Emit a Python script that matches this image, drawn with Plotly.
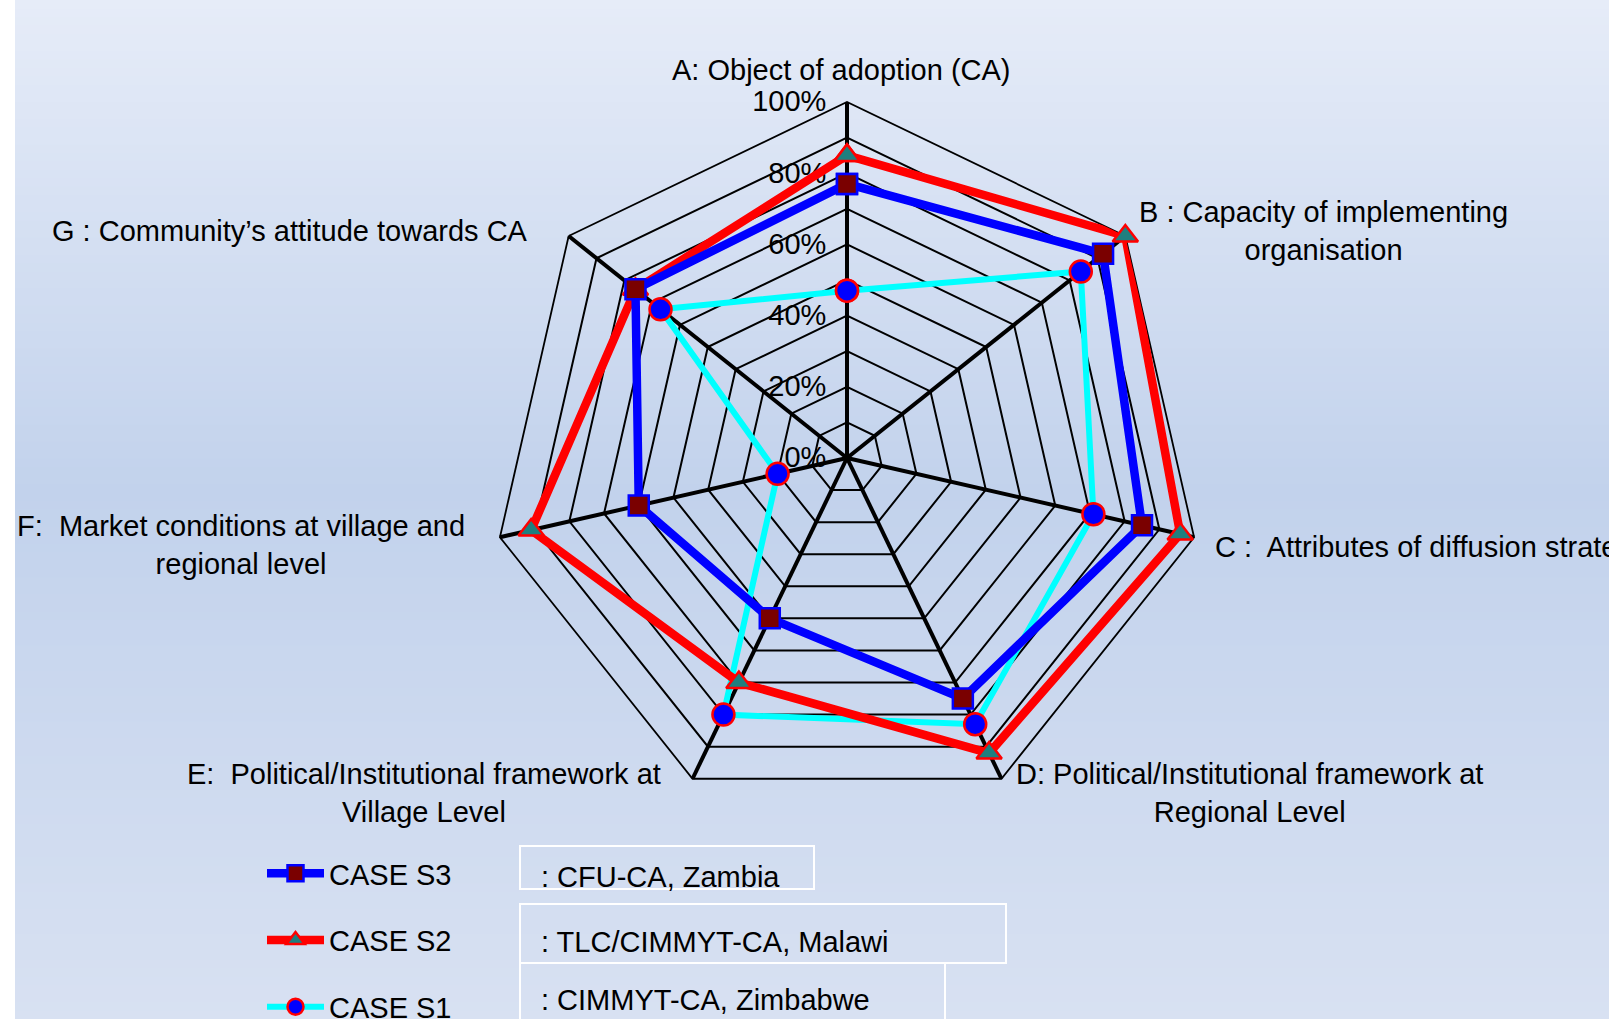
import plotly.graph_objects as go

W, H = 1609, 1019

categories = ["A", "B", "C", "D", "E", "F", "G"]
s3_values = [0.77, 0.92, 0.85, 0.75, 0.50, 0.60, 0.76]
s2_values = [0.85, 1.00, 0.96, 0.92, 0.70, 0.91, 0.76]
s1_values = [0.47, 0.84, 0.71, 0.83, 0.80, 0.20, 0.67]
radial_ticks = [0, 0.1, 0.2, 0.3, 0.4, 0.5, 0.6, 0.7, 0.8, 0.9, 1.0]
radial_ticktext = ["0%", "", "20%", "", "40%", "", "60%", "", "80%", "", "100%"]

axis_labels = [
    ("A: Object of adoption (CA)", 841, 70),
    ("B : Capacity of implementing<br>organisation", 1323, 231),
    ("C :  Attributes of diffusion strategy", None, 547),
    ("D: Political/Institutional framework at<br>Regional Level", 1249, 793),
    ("E:  Political/Institutional framework at<br>Village Level", 424, 793),
    ("F:  Market conditions at village and<br>regional level", 241, 545),
    ("G : Community\u2019s attitude towards CA", 290, 231),
]
legend_names = ["CASE S3", "CASE S2", "CASE S1"]
legend_desc = [": CFU-CA, Zambia", ": TLC/CIMMYT-CA, Malawi", ": CIMMYT-CA, Zimbabwe"]

FONT = "Liberation Sans, Arial, sans-serif"
FS = 29

def closed(v):
    return v + v[:1]

theta = closed(categories)

fig = go.Figure()
fig.add_trace(go.Scatterpolar(
    r=closed(s1_values), theta=theta, mode="lines+markers", name=legend_names[2],
    line=dict(color="#00FFFF", width=6),
    marker=dict(symbol="circle", size=22, color="#0000FF", line=dict(color="#FF0000", width=2.5)),
    legendrank=3, legendgroup="s1"))
fig.add_trace(go.Scatterpolar(
    r=closed(s2_values), theta=theta, mode="lines+markers", name=legend_names[1],
    line=dict(color="#FF0000", width=8.5),
    marker=dict(symbol="triangle-up", size=22, color="#1F7F7F", line=dict(color="#FF0000", width=2.5)),
    legendrank=2, legendgroup="s2"))
fig.add_trace(go.Scatterpolar(
    r=closed(s3_values), theta=theta, mode="lines+markers", name=legend_names[0],
    line=dict(color="#0000FF", width=8.5),
    marker=dict(symbol="square", size=20, color="#7A0000", line=dict(color="#0000FF", width=2.5)),
    legendrank=1, legendgroup="s3"))

# background gradient (style only)
def lerp(c1, c2, t):
    return tuple(round(a + (b - a) * t) for a, b in zip(c1, c2))

stops = [(0, (0xE6, 0xEC, 0xF8)), (490, (0xC2, 0xD2, 0xEC)), (1019, (0xD8, 0xE1, 0xF2))]
shapes = []
N = 120
for i in range(N):
    y0 = H * i / N
    y1 = H * (i + 1) / N
    ym = (y0 + y1) / 2
    for (a, ca), (b, cb) in zip(stops[:-1], stops[1:]):
        if a <= ym <= b:
            c = lerp(ca, cb, (ym - a) / (b - a))
            break
    shapes.append(dict(type="rect", xref="paper", yref="paper", layer="below",
                       x0=15 / W, x1=1, y0=1 - y1 / H - 0.001, y1=1 - y0 / H,
                       fillcolor="rgb(%d,%d,%d)" % c, line=dict(width=0)))

# legend description boxes
boxes = [(520, 846, 814, 889), (520, 904, 1006, 963), (520, 963, 945, 1040)]
for (x0, y0, x1, y1) in boxes:
    shapes.append(dict(type="rect", xref="paper", yref="paper", layer="above",
                       x0=x0 / W, x1=x1 / W, y0=1 - y1 / H, y1=1 - y0 / H,
                       fillcolor="rgba(0,0,0,0)", line=dict(color="white", width=2)))

annotations = []
for text, x, y in axis_labels:
    if x is None:
        annotations.append(dict(text=text, x=1213 / W, y=1 - y / H, xref="paper", yref="paper",
                                xanchor="left", yanchor="middle", showarrow=False,
                                font=dict(family=FONT, size=FS, color="black")))
    else:
        annotations.append(dict(text=text, x=x / W, y=1 - y / H, xref="paper", yref="paper",
                                xanchor="center", yanchor="middle", align="center", showarrow=False,
                                font=dict(family=FONT, size=FS, color="black")))
for text, y in zip(legend_desc, [877, 942, 1000]):
    annotations.append(dict(text=text, x=539 / W, y=1 - y / H, xref="paper", yref="paper",
                            xanchor="left", yanchor="middle", showarrow=False,
                            font=dict(family=FONT, size=FS, color="black")))

cx, cy, R = 847, 458, 356
fig.update_layout(
    width=W, height=H,
    margin=dict(l=0, r=0, t=0, b=0, autoexpand=False),
    paper_bgcolor="white",
    plot_bgcolor="rgba(0,0,0,0)",
    font=dict(family=FONT, size=FS, color="black"),
    shapes=shapes,
    annotations=annotations,
    polar=dict(
        domain=dict(x=[(cx - R) / W, (cx + R) / W], y=[1 - (cy + R) / H, 1 - (cy - R) / H]),
        bgcolor="rgba(0,0,0,0)",
        gridshape="linear",
        radialaxis=dict(range=[0, 1], tickvals=radial_ticks, ticktext=radial_ticktext,
                        angle=90, tickangle=90, side="counterclockwise",
                        showline=False, ticks="outside", ticklen=10, tickcolor="rgba(0,0,0,0)",
                        gridcolor="black", gridwidth=1.8,
                        tickfont=dict(family=FONT, size=FS, color="black"), layer="below traces"),
        angularaxis=dict(direction="clockwise", rotation=90, showticklabels=False, ticks="",
                         gridcolor="black", gridwidth=3.8, showline=True, linecolor="black",
                         linewidth=1.8, layer="below traces"),
    ),
    showlegend=True,
    legend=dict(x=262 / W, y=1 - 848 / H, xanchor="left", yanchor="top",
                bgcolor="rgba(0,0,0,0)", traceorder="grouped", tracegroupgap=26,
                itemwidth=57, font=dict(family=FONT, size=FS, color="black")),
)

fig.write_html("out.html", config={"displayModeBar": False},
               post_script="document.body.style.margin='0px';document.body.style.overflow='hidden';")
